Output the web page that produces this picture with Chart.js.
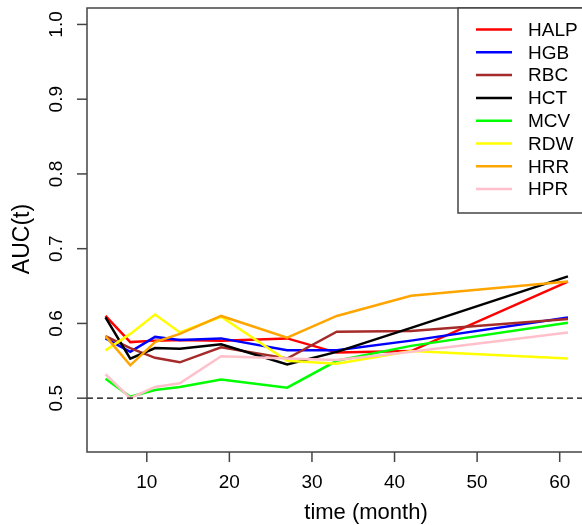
<!DOCTYPE html>
<html>
<head>
<meta charset="utf-8">
<script src="https://cdn.jsdelivr.net/npm/chart.js@4.4.1/dist/chart.umd.min.js"></script>
<style>
  html, body { margin: 0; padding: 0; background: #fff; }
  #wrap { width: 582px; height: 525px; position: relative; }
</style>
</head>
<body>
<div id="wrap"><canvas id="myChart" width="582" height="525"></canvas></div>
<script>
// time points (month)
const months = [5, 8, 11, 14, 19, 27, 33, 42, 61];
const xTicks = [10, 20, 30, 40, 50, 60];
const yTicks = [0.5, 0.6, 0.7, 0.8, 0.9, 1.0];

const seriesNames = ["HALP", "HGB", "RBC", "HCT", "MCV", "RDW", "HRR", "HPR"];
const seriesColors = ["#ff0000", "#0000ff", "#a52a2a", "#000000", "#00ff00", "#ffff00", "#ffa500", "#ffc0cb"];

const halp = [0.610, 0.575, 0.577, 0.578, 0.577, 0.580, 0.561, 0.563, 0.656];
const hgb  = [0.580, 0.562, 0.582, 0.578, 0.580, 0.564, 0.564, 0.577, 0.608];
const rbc  = [0.583, 0.567, 0.554, 0.548, 0.568, 0.553, 0.589, 0.590, 0.606];
const hct  = [0.608, 0.553, 0.567, 0.566, 0.572, 0.545, 0.562, 0.594, 0.663];
const mcv  = [0.526, 0.502, 0.511, 0.515, 0.525, 0.514, 0.550, 0.570, 0.601];
const rdw  = [0.564, 0.586, 0.612, 0.588, 0.609, 0.550, 0.546, 0.563, 0.553];
const hrr  = [0.583, 0.544, 0.575, 0.586, 0.610, 0.581, 0.610, 0.637, 0.656];
const hpr  = [0.532, 0.500, 0.515, 0.520, 0.556, 0.553, 0.551, 0.562, 0.588];

const allSeries = [halp, hgb, rbc, hct, mcv, rdw, hrr, hpr];
const FONT = "'Liberation Sans', Arial, sans-serif";

// draws the R-style box, axes, ticks, reference line and legend
const rStyle = {
  id: "rStyle",
  afterDatasetsDraw(chart) {
    const c = chart.ctx;
    const a = chart.chartArea;
    const xs = chart.scales.x;
    const ys = chart.scales.y;
    c.save();
    // dashed line at 0.5
    c.strokeStyle = "#000";
    c.lineWidth = 1.2;
    c.setLineDash([6, 4]);
    const y05 = ys.getPixelForValue(0.5);
    c.beginPath();
    c.moveTo(a.left, y05);
    c.lineTo(a.right, y05);
    c.stroke();
    c.setLineDash([]);

    // box
    c.strokeStyle = "#444";
    c.lineWidth = 1.5;
    c.strokeRect(a.left, a.top, a.right - a.left + 5, a.bottom - a.top);

    // x ticks
    c.fillStyle = "#000";
    c.font = "19px " + FONT;
    c.textAlign = "center";
    c.textBaseline = "middle";
    xTicks.forEach((t) => {
      const px = xs.getPixelForValue(t);
      c.beginPath();
      c.moveTo(px, a.bottom);
      c.lineTo(px, a.bottom + 10);
      c.stroke();
      c.fillText(String(t), px, 483);
    });

    // y ticks (rotated labels)
    yTicks.forEach((t) => {
      const py = ys.getPixelForValue(t);
      c.beginPath();
      c.moveTo(a.left, py);
      c.lineTo(a.left - 10, py);
      c.stroke();
      c.save();
      c.translate(57, py);
      c.rotate(-Math.PI / 2);
      c.fillText(t.toFixed(1), 0, 0);
      c.restore();
    });

    // axis titles
    c.font = "22px " + FONT;
    c.fillText("time (month)", 366, 513);
    c.save();
    c.translate(23, 239);
    c.rotate(-Math.PI / 2);
    c.font = "23px " + FONT;
    c.fillText("AUC(t)", 0, 0);
    c.restore();

    // legend
    const lx = 458, ly = a.top, lh = 205;
    c.fillStyle = "#fff";
    c.fillRect(lx, ly, a.right - lx + 5, lh);
    c.strokeStyle = "#444";
    c.lineWidth = 1.5;
    c.strokeRect(lx, ly, a.right - lx + 5, lh);
    c.font = "19px " + FONT;
    c.textAlign = "left";
    seriesNames.forEach((name, i) => {
      const ry = 29.5 + i * 22.8;
      c.strokeStyle = seriesColors[i];
      c.lineWidth = 2.5;
      c.beginPath();
      c.moveTo(476, ry);
      c.lineTo(512, ry);
      c.stroke();
      c.fillStyle = "#000";
      c.fillText(name, 528, ry + 1);
    });
    c.restore();
  }
};

const ctx = document.getElementById("myChart").getContext("2d");
const myChart = new Chart(ctx, {
  type: "line",
  data: {
    datasets: seriesNames.map((name, i) => ({
      label: name,
      data: months.map((m, j) => ({ x: m, y: allSeries[i][j] })),
      borderColor: seriesColors[i],
      backgroundColor: seriesColors[i],
      borderWidth: 2.5,
      pointRadius: 0,
      tension: 0,
      fill: false,
      order: seriesNames.length - i
    }))
  },
  options: {
    responsive: false,
    animation: false,
    layout: { padding: { left: 87, top: 8, right: 0, bottom: 73 } },
    plugins: { legend: { display: false }, tooltip: { enabled: false } },
    scales: {
      x: { type: "linear", display: false, min: 2.76, max: 62.7 },
      y: { type: "linear", display: false, min: 0.428, max: 1.022 }
    }
  },
  plugins: [rStyle]
});
</script>
</body>
</html>
